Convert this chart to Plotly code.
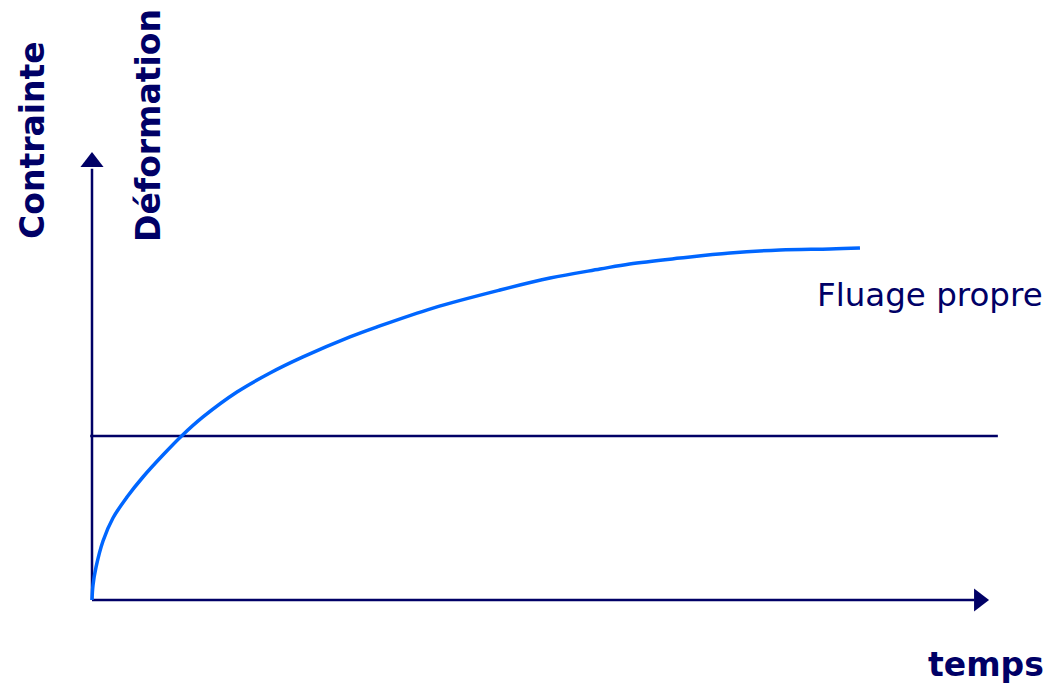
import plotly.graph_objects as go

# Creep curve (fluage propre): time vs deformation
temps = [0, 0.011, 0.045, 0.123, 0.234, 0.391, 0.569, 0.792, 1.0, 1.239, 1.618, 1.987,
         2.355, 2.879, 3.181, 3.806, 4.554, 5.112, 5.67, 6.0, 6.563, 7.121, 7.679, 8.237, 8.571]
deformation = [0, 0.09, 0.2, 0.36, 0.5, 0.628, 0.75, 0.884, 1.0, 1.116, 1.268, 1.384,
               1.482, 1.604, 1.665, 1.78, 1.89, 1.963, 2.018, 2.049, 2.085, 2.116, 2.134, 2.14, 2.146]

# Constant stress level (contrainte)
contrainte_t = [-0.02, 10.11]
contrainte = [1.0, 1.0]

# axis extents
t_max = 9.9
y_max = 2.67

navy = "#000066"
blue = "#0066FF"

fig = go.Figure()

# axes drawn as arrows
fig.add_trace(go.Scatter(x=[0, 0], y=[0, y_max - 0.04], mode="lines",
                         line=dict(color=navy, width=2.5), hoverinfo="skip"))
fig.add_trace(go.Scatter(x=[0], y=[y_max], mode="markers",
                         marker=dict(symbol="triangle-up", size=20, color=navy), hoverinfo="skip"))
fig.add_trace(go.Scatter(x=[0, t_max - 0.05], y=[0, 0], mode="lines",
                         line=dict(color=navy, width=2.5), hoverinfo="skip"))
fig.add_trace(go.Scatter(x=[t_max], y=[0], mode="markers",
                         marker=dict(symbol="triangle-right", size=20, color=navy), hoverinfo="skip"))

# stress
fig.add_trace(go.Scatter(x=contrainte_t, y=contrainte, mode="lines",
                         line=dict(color=navy, width=2.5)))

# strain
fig.add_trace(go.Scatter(x=temps, y=deformation, mode="lines",
                         line=dict(color=blue, width=3.5, shape="spline", smoothing=1)))

font = "DejaVu Sans, Verdana, sans-serif"
labels = [
    ("Fluage propre", 930, 295, 0, 32.5),
    ("<b>temps</b>", 986, 664, 0, 33),
    ("<b>Contrainte</b>", 33, 140, -90, 33),
    ("<b>Déformation</b>", 148, 126, -90, 33),
]
for text, px, py, angle, size in labels:
    fig.add_annotation(x=px / 1050, y=1 - py / 685, xref="paper", yref="paper",
                       xanchor="center", yanchor="middle",
                       text=text, showarrow=False, textangle=angle,
                       font=dict(family=font, size=size, color=navy))

fig.update_layout(
    width=1050, height=685,
    margin=dict(l=0, r=0, t=0, b=0),
    paper_bgcolor="white", plot_bgcolor="white",
    showlegend=False,
    xaxis=dict(range=[-92 / 89.6, 958 / 89.6], visible=False, fixedrange=True),
    yaxis=dict(range=[-85 / 164, 600 / 164], visible=False, fixedrange=True),
)

fig.write_html("out.html", config={"displayModeBar": False},
               post_script="document.body.style.margin='0';")
